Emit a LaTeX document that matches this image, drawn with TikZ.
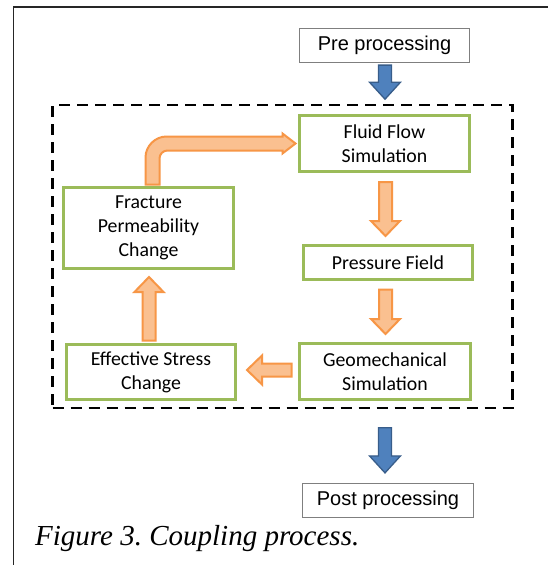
\documentclass[tikz,border=0pt]{standalone}
\usepackage{fontspec}
\setmainfont{Liberation Serif}
\newfontfamily\boxfont{Carlito}
\newfontfamily\procfont{Liberation Sans}
\usetikzlibrary{calc}

\definecolor{stepgreen}{HTML}{9BBB59}
\definecolor{flowline}{HTML}{F79646}
\definecolor{flowfill}{HTML}{FAC090}
\definecolor{ioline}{HTML}{385D8A}
\definecolor{iofill}{HTML}{4F81BD}
\definecolor{ioborder}{HTML}{7F7F7F}

% Straight block arrow from #2 to #3 in style #1:
% #4 half shaft width, #5 half head width, #6 head length (all in pt)
\newcommand\blockarrow[6]{%
  \path[#1] let \p1=(#2), \p2=(#3),
      \n1={atan2(\y2-\y1,\x2-\x1)}, \n2={veclen(\x2-\x1,\y2-\y1)} in
    [shift={(\p1)}, rotate=\n1]
    (0pt,-#4pt) -- ({\n2-#6pt},-#4pt) -- ({\n2-#6pt},-#5pt) -- ({\n2-0pt},0pt)
    -- ({\n2-#6pt},#5pt) -- ({\n2-#6pt},#4pt) -- (0pt,#4pt) -- cycle;
}

\tikzset{
  stepbox/.style={draw=stepgreen, line width=3pt, fill=white, inner sep=0pt,
    align=center, text=black, font={\boxfont\fontsize{19.8}{24}\selectfont}},
  iobox/.style={draw=ioborder, line width=1.2pt, fill=white, inner sep=0pt,
    text=black, font={\procfont\fontsize{20}{24}\selectfont}},
  flowarrow/.style={draw=flowline, fill=flowfill, line width=2pt, line join=miter},
  ioarrow/.style={draw=ioline, fill=iofill, line width=1.3pt, line join=miter},
  loopframe/.style={draw=black, line width=2.6pt, dash pattern=on 11pt off 7pt},
}

\begin{document}
\frenchspacing
\begin{tikzpicture}[x=1pt, y=-1pt]
  \fill[white] (0,0) rectangle (548,565);
  \useasboundingbox (0,0) rectangle (548,565);

  % outer frame (open to the right and bottom)
  \draw[line width=1.8pt, black!85] (13.5,567) -- (13.5,7) -- (550,7);

  % coupling loop
  \node[loopframe, minimum width=460pt, minimum height=303pt, inner sep=0pt]
    (loop) at (282.5,256.5) {};

  % process steps
  \node[iobox, minimum width=170pt, minimum height=34pt] (pre) at (384.5,45.5) {Pre processing};
  \node[stepbox, minimum width=170pt, minimum height=56pt] (fluid) at (384.5,143.5) {Fluid Flow\\Simulation};
  \node[stepbox, minimum width=169pt, minimum height=34pt] (pressure) at (388,262.5) {Pressure Field};
  \node[stepbox, minimum width=171pt, minimum height=56pt] (geomech) at (385,371.5) {Geomechanical\\Simulation};
  \node[stepbox, minimum width=169pt, minimum height=55pt] (effective) at (151,372) {Effective Stress\\Change};
  \node[stepbox, minimum width=170pt, minimum height=81pt] (frac) at (148.5,228) {Fracture\\Permeability\\Change};
  \node[iobox, minimum width=171pt, minimum height=34pt] (post) at (388,500.5) {Post processing};

  % arrow end points
  \coordinate (a1s) at ($(fluid.south)+(1,9)$);
  \coordinate (a1e) at ($(a1s |- pressure.north)+(0,-8)$);
  \coordinate (a2s) at ($(pressure.south)+(-2.5,8.5)$);
  \coordinate (a2e) at ($(a2s |- geomech.north)+(0,-8)$);
  \coordinate (a3s) at ($(geomech.west)+(-6.5,-1.5)$);
  \coordinate (a3e) at ($(a3s -| effective.east)+(10,0)$);
  \coordinate (a4s) at ($(effective.north)+(-2,-2.5)$);
  \coordinate (a4e) at ($(a4s |- frac.south)+(0,7)$);
  \coordinate (a5s) at ($(pre.south)+(0.5,2)$);
  \coordinate (a5e) at ($(a5s |- loop.north)+(0,-4.5)$);
  \coordinate (a6s) at ($(a5s |- loop.south)+(0,18.5)$);
  \coordinate (a6e) at ($(a6s |- post.north)+(0,-10)$);

  % loop arrows
  \blockarrow{flowarrow}{a1s}{a1e}{6.5}{14.5}{15}
  \blockarrow{flowarrow}{a2s}{a2e}{6.5}{14.5}{15}
  \blockarrow{flowarrow}{a3s}{a3e}{6.5}{14.5}{15}
  \blockarrow{flowarrow}{a4s}{a4e}{6.5}{14.5}{15}

  % elbow arrow from permeability change back to fluid flow
  \coordinate (eb) at ($(frac.north)+(4,-1.5)$);
  \coordinate (et) at ($(fluid.west)+(-2.5,0)$);
  \coordinate (ec) at (eb |- et);
  \path[flowarrow]
    ($(eb)+(-7,0)$) -- ($(ec)+(-7,14)$)
    .. controls ($(ec)+(-7,2.6)$) and ($(ec)+(2.6,-7)$) .. ($(ec)+(14,-7)$)
    -- ($(et)+(-13,-7)$) -- ($(et)+(-13,-10)$) -- (et)
    -- ($(et)+(-13,10)$) -- ($(et)+(-13,7)$) -- ($(ec)+(15,7)$)
    .. controls ($(ec)+(10.6,7)$) and ($(ec)+(7,10.6)$) .. ($(ec)+(7,15)$)
    -- ($(eb)+(7,0)$) -- cycle;

  % input and output arrows
  \blockarrow{ioarrow}{a5s}{a5e}{6.5}{15.5}{17}
  \blockarrow{ioarrow}{a6s}{a6e}{6.5}{15.5}{17}

  % caption
  \node[anchor=base west, inner sep=0pt, font={\itshape\fontsize{29}{34}\selectfont}]
    (caption) at (35,545) {Figure 3. Coupling process.};
\end{tikzpicture}
\end{document}
